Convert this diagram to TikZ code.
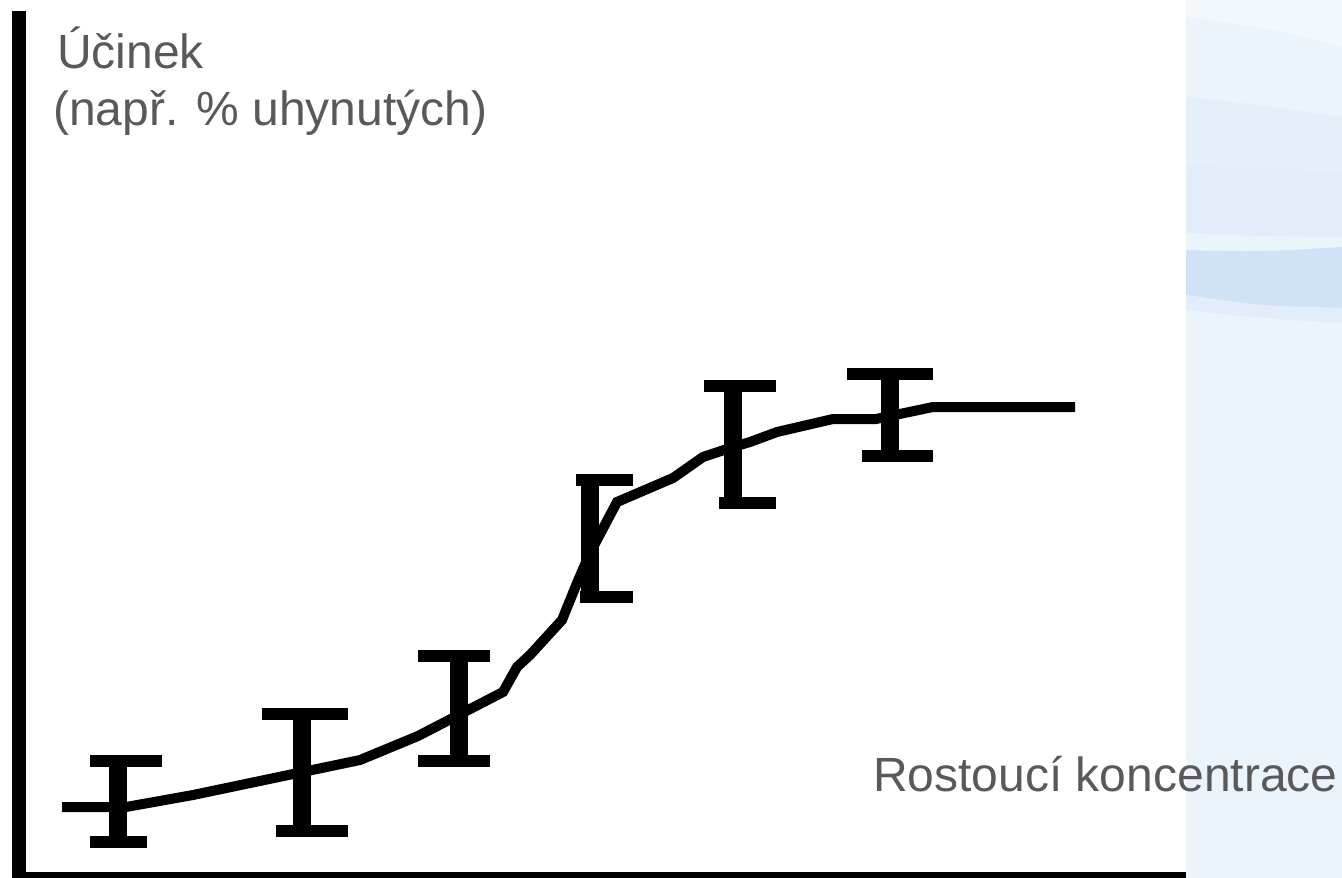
\documentclass[tikz,border=0pt]{standalone}
\usepackage{fontspec}
\setmainfont{Liberation Sans}
\usepackage{tikz}
\usepackage{xcolor}
\usetikzlibrary{calc}
\definecolor{labelgray}{HTML}{595959}
\definecolor{panelblue}{HTML}{EBF3FB}
\definecolor{panellight}{HTML}{F3F8FD}
\definecolor{panelmid}{HTML}{E2EDF9}
\definecolor{paneldark}{HTML}{D0E3F6}
\tikzstyle{axisline} = [
    line width=10.5pt,
    black
    ]
\tikzstyle{curveline} = [
    line width=7.5pt,
    black,
    line join=miter
    ]
\tikzstyle{errstem} = [
    line width=14pt,
    black
    ]
\tikzstyle{errcap} = [
    line width=9pt,
    black
    ]
\tikzstyle{axislabel} = [
    text=labelgray,
    font=\fontsize{36}{43}\selectfont,
    inner sep=0pt,
    anchor=base west
    ]

\begin{document}
\begin{tikzpicture}[x=0.75pt,y=-0.75pt]
\useasboundingbox (0,0) rectangle (1342,878);
\clip (0,0) rectangle (1342,878);

% side panel
\fill[panelblue] (1186,0) rectangle (1342,878);
\fill[panellight] (1186,0) -- (1342,0) -- (1342,47) .. controls (1280,30) .. (1186,17) -- cycle;
\fill[panelmid!60!panelblue] (1186,97) .. controls (1260,105) .. (1342,117) -- (1342,172) .. controls (1260,168) .. (1186,165) -- cycle;
\fill[panelmid] (1186,165) .. controls (1260,168) .. (1342,172) -- (1342,237) .. controls (1260,236) .. (1186,233) -- cycle;
\fill[paneldark] (1186,250) .. controls (1260,252) .. (1342,247) -- (1342,308) .. controls (1260,306) .. (1186,295) -- cycle;
\fill[panelmid] (1186,295) .. controls (1260,306) .. (1342,308) -- (1342,323) .. controls (1260,318) .. (1186,310) -- cycle;

% axes
\draw[axisline] (19,11) -- (19,879) -- (1186,879);

% error bars: x, top, bottom, top cap from/to, bottom cap from/to
\foreach \bx/\ty/\by/\ta/\tb/\ba/\bb in {
    118/761/842/90/162/90/147,
    302/714/831/262/348/276/348,
    459/656/761/418/490/418/490,
    590/480/597/576/633/580/633,
    733/386/503/704/776/719/776,
    890/374/456/847/933/862/933}{
    \draw[errstem] (\bx,\ty) -- (\bx,\by);
    \draw[errcap] (\ta,\ty) -- (\tb,\ty);
    \draw[errcap] (\ba,\by) -- (\bb,\by);
}

% dose-response curve
\draw[curveline] (62,807) -- (126,807) -- (193,795) -- (360,760) -- (418,736)
    -- (503,692) -- (517,667) -- (530,655) -- (562,620) -- (577,583)
    -- (590,553) -- (617,502) -- (673,478) -- (703,457) -- (733,447)
    -- (750,442) -- (777,432) -- (833,419) -- (876,419) -- (933,407)
    -- (1075,407);

\node[axislabel] (effect) at (57,68) {Účinek};
\node[axislabel] (effectnote) at (53,125) {(např. \% uhynutých)};
\node[axislabel] (conc) at (873,791) {Rostoucí koncentrace};
\end{tikzpicture}
\end{document}
